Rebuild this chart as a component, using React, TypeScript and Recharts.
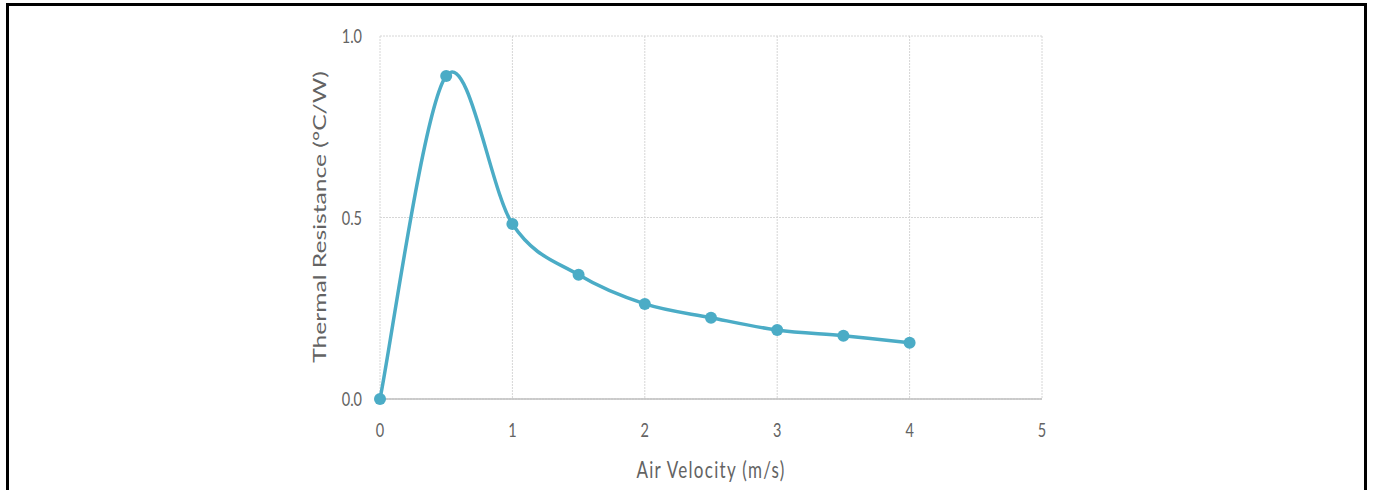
import { LineChart, Line, XAxis, YAxis, CartesianGrid } from "recharts";

const velocity = [0, 0.5, 1, 1.5, 2, 2.5, 3, 3.5, 4];
const resistance = [0, 0.89, 0.482, 0.342, 0.262, 0.224, 0.19, 0.174, 0.155];
const xTicks = [0, 1, 2, 3, 4, 5];
const yTicks = [0, 0.5, 1];

const data = velocity.map((v, i) => ({ v, r: resistance[i] }));

const LINE = "#4bacc6";
const TEXT = "#636363";
const FONT = "Lato, 'Open Sans', sans-serif";
const STRETCH = 1.38; // the source picture is squashed sideways

// Excel-style smoothed line: Catmull-Rom turned into cubic beziers
function excelSmooth(context: any) {
  let pts: number[][] = [];
  return {
    areaStart() {},
    areaEnd() {},
    lineStart() {
      pts = [];
    },
    point(x: number, y: number) {
      pts.push([+x, +y]);
    },
    lineEnd() {
      const n = pts.length;
      if (!n) return;
      context.moveTo(pts[0][0], pts[0][1]);
      for (let i = 0; i < n - 1; i++) {
        const p0 = pts[Math.max(i - 1, 0)];
        const p1 = pts[i];
        const p2 = pts[i + 1];
        const p3 = pts[Math.min(i + 2, n - 1)];
        context.bezierCurveTo(
          p1[0] + (p2[0] - p0[0]) / 6,
          p1[1] + (p2[1] - p0[1]) / 6,
          p2[0] - (p3[0] - p1[0]) / 6,
          p2[1] - (p3[1] - p1[1]) / 6,
          p2[0],
          p2[1]
        );
      }
    },
  };
}

function XTick({ x, y, payload }: any) {
  return (
    <g transform={`translate(${x},${y + 31}) scale(1,${STRETCH})`}>
      <text textAnchor="middle" dominantBaseline="central" fill={TEXT} fontSize={14.5} fontFamily={FONT}>
        {payload.value}
      </text>
    </g>
  );
}

function YTick({ x, y, payload }: any) {
  return (
    <g transform={`translate(${x - 18},${y}) scale(1,${STRETCH})`}>
      <text textAnchor="end" dominantBaseline="central" fill={TEXT} fontSize={14.5} fontFamily={FONT}>
        {Number(payload.value).toFixed(1)}
      </text>
    </g>
  );
}

export default function App() {
  return (
    <div style={{ position: "absolute", left: 0, top: 0, width: 1373, height: 490, background: "#fff" }}>
      <div
        style={{
          position: "absolute",
          left: 6,
          top: 3,
          width: 1355,
          height: 487,
          border: "3px solid #000",
          borderBottom: "none",
        }}
      />
      <div style={{ position: "absolute", left: 0, top: 0 }}>
        <LineChart width={1373} height={490} data={data} margin={{ top: 36, right: 331, bottom: 11, left: 300 }}>
          <CartesianGrid stroke="#d6d6d6" strokeDasharray="2 1" horizontalValues={yTicks} verticalValues={xTicks} />
          <XAxis
            dataKey="v"
            type="number"
            domain={[0, 5]}
            ticks={xTicks}
            height={80}
            tickSize={0}
            tickMargin={0}
            tick={<XTick />}
            axisLine={{ stroke: "#bfbfbf", strokeWidth: 1.5 }}
            label={{
              content: () => (
                <g transform={`translate(711,469) scale(1,${STRETCH})`}>
                  <text
                    textAnchor="middle"
                    dominantBaseline="central"
                    fill={TEXT}
                    fontSize={17}
                    letterSpacing={1.3}
                    fontFamily={FONT}
                  >
                    Air Velocity (m/s)
                  </text>
                </g>
              ),
            }}
          />
          <YAxis
            type="number"
            domain={[0, 1]}
            ticks={yTicks}
            width={80}
            tickSize={0}
            tickMargin={0}
            tick={<YTick />}
            axisLine={false}
            label={{
              content: () => (
                <g transform={`translate(320,217) rotate(-90) scale(1.45,1)`}>
                  <text textAnchor="middle" dominantBaseline="central" fill={TEXT} fontSize={17} fontFamily={FONT}>
                    Thermal Resistance (°C/W)
                  </text>
                </g>
              ),
            }}
          />
          <Line
            dataKey="r"
            type={excelSmooth as any}
            stroke={LINE}
            strokeWidth={3.5}
            dot={{ r: 6, fill: LINE, stroke: LINE, strokeWidth: 0 }}
            isAnimationActive={false}
          />
        </LineChart>
      </div>
    </div>
  );
}
